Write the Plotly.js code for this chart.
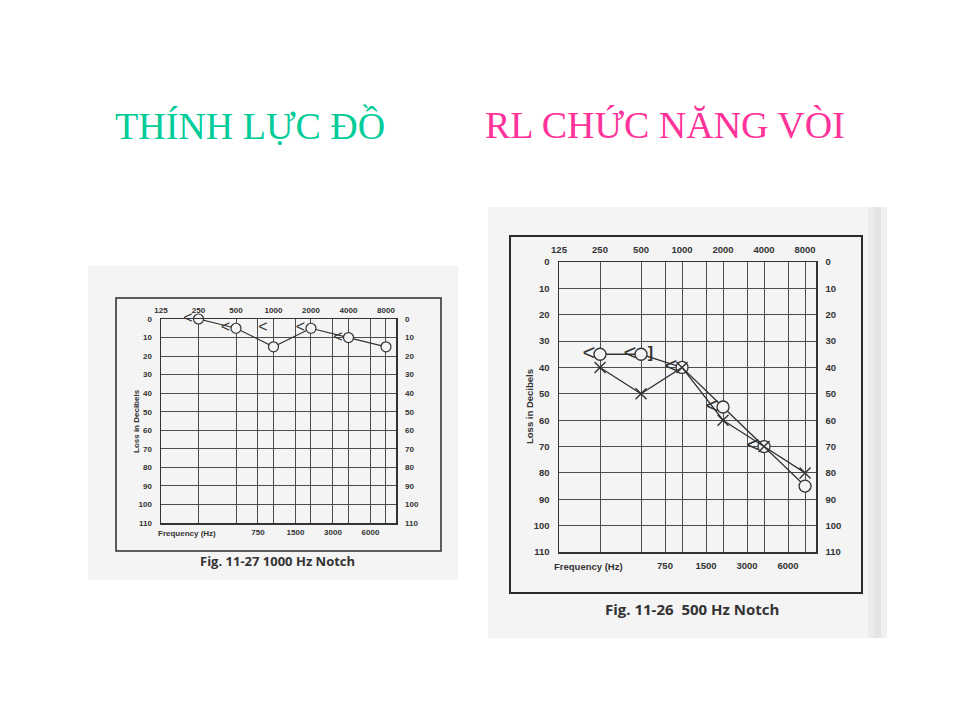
<!DOCTYPE html>
<html>
<head>
<meta charset="utf-8">
<script src="https://cdn.plot.ly/plotly-3.0.1.min.js"></script>
<style>html,body{margin:0;padding:0;background:#fff;}#chart{width:960px;height:720px;}</style>
</head>
<body>
<div id="chart"></div>
<script>
// ---- data ----
const freqs = [250, 500, 1000, 2000, 4000, 8000];
const topTicks = [125, 250, 500, 1000, 2000, 4000, 8000];
const bottomTicks = [750, 1500, 3000, 6000];
const dbTicks = [0, 10, 20, 30, 40, 50, 60, 70, 80, 90, 100, 110];

// Fig. 11-27 (1000 Hz notch)
const leftAirO = [0, 5, 15, 5, 10, 15];
const leftBoneFreqs = [250, 500, 1000, 2000, 4000];
const leftBone = [0, 5, 5, 5, 10];

// Fig. 11-26 (500 Hz notch)
const rightAirO = [35, 35, 40, 55, 70, 85];
const rightAirX = [40, 50, 40, 60, 70, 80];
const rightBoneFreqs = [250, 500, 1000, 2000, 4000];
const rightBone = [35, 35, 40, 55, 70];
const rightMaskFreqs = [500];
const rightMask = [35];

// ---- helpers ----
const W = 960, H = 720;
const px = v => v / W;
const py = v => 1 - v / H;
const xRange = [Math.log10(125), Math.log10(125) + 6.267 * Math.log10(2)];
const ink = '#333';
const gridC = '#4d4d4d';
const paperC = '#f4f4f4';
const tickFam = '"Liberation Sans Narrow", "Arial Narrow", "Liberation Sans", sans-serif';
const symFam = '"Liberation Sans Narrow", "Liberation Sans", sans-serif';

function xAxis(domain, side, vals, size, extra) {
  return Object.assign({
    type: 'log', range: xRange, domain: domain, side: side,
    tickmode: 'array', tickvals: vals, ticktext: vals.map(String),
    showgrid: true, gridcolor: gridC, gridwidth: 1, zeroline: false,
    ticks: '', ticklabelstandoff: 3,
    tickfont: {family: tickFam, size: size, color: ink, weight: 'bold'},
    showline: true, mirror: true, linecolor: ink, linewidth: 1.5, fixedrange: true
  }, extra);
}
function yAxis(domain, side, size, extra) {
  return Object.assign({
    range: [110, 0], domain: domain, side: side,
    tickmode: 'array', tickvals: dbTicks, ticktext: dbTicks.map(String),
    showgrid: true, gridcolor: gridC, gridwidth: 1, zeroline: false,
    ticks: '', ticklabelstandoff: 6,
    tickfont: {family: tickFam, size: size, color: ink, weight: 'bold'},
    showline: true, mirror: true, linecolor: ink, linewidth: 1.5, fixedrange: true
  }, extra);
}

const LX = [px(161), px(396)], LY = [py(523), py(319)];
const RX = [px(559), px(816)], RY = [py(552), py(262)];

const traces = [
  // left chart
  {x: freqs, y: leftAirO, xaxis: 'x', yaxis: 'y', type: 'scatter', mode: 'lines+markers', cliponaxis: false,
   line: {color: ink, width: 1.2},
   marker: {symbol: 'circle', size: 10, color: paperC, line: {width: 1.2, color: ink}}},
  {x: leftBoneFreqs, y: leftBone, xaxis: 'x2', yaxis: 'y2', type: 'scatter', mode: 'markers+text', cliponaxis: false,
   text: leftBone.map(() => '<'), textposition: 'middle left',
   textfont: {family: symFam, size: 16, color: ink},
   marker: {size: 8, color: 'rgba(0,0,0,0)'}},
  // right chart
  {x: freqs, y: rightAirO, xaxis: 'x3', yaxis: 'y3', type: 'scatter', mode: 'lines+markers', cliponaxis: false,
   line: {color: ink, width: 1.3},
   marker: {symbol: 'circle', size: 12, color: paperC, line: {width: 1.3, color: ink}}},
  {x: freqs, y: rightAirX, xaxis: 'x4', yaxis: 'y4', type: 'scatter', mode: 'lines+markers', cliponaxis: false,
   line: {color: ink, width: 1.3},
   marker: {symbol: 'x-thin-open', size: 11, color: ink, line: {width: 1.4, color: ink}}},
  {x: rightBoneFreqs, y: rightBone, xaxis: 'x4', yaxis: 'y4', type: 'scatter', mode: 'markers+text', cliponaxis: false,
   text: rightBone.map(() => '<'), textposition: 'middle left',
   textfont: {family: symFam, size: 22, color: ink},
   marker: {size: 6, color: 'rgba(0,0,0,0)'}},
  {x: rightMaskFreqs, y: rightMask, xaxis: 'x4', yaxis: 'y4', type: 'scatter', mode: 'markers+text', cliponaxis: false,
   text: rightMask.map(() => ']'), textposition: 'middle right',
   textfont: {family: symFam, size: 16, color: ink, weight: 'bold'},
   marker: {size: 9, color: 'rgba(0,0,0,0)'}}
];

const narrowBold = s => ({family: tickFam, size: s, color: ink, weight: 'bold'});

const layout = {
  width: W, height: H, margin: {l: 0, r: 0, t: 0, b: 0},
  paper_bgcolor: '#ffffff', plot_bgcolor: 'rgba(0,0,0,0)',
  showlegend: false, hovermode: false,
  xaxis: xAxis(LX, 'top', topTicks, 8, {anchor: 'y', ticklabelstandoff: 1}),
  xaxis2: xAxis(LX, 'bottom', bottomTicks, 8, {anchor: 'y', overlaying: 'x', ticklabelstandoff: 1}),
  yaxis: yAxis(LY, 'left', 8, {anchor: 'x'}),
  yaxis2: yAxis(LY, 'right', 8, {anchor: 'x', overlaying: 'y', showgrid: false}),
  xaxis3: xAxis(RX, 'top', topTicks, 9.5, {anchor: 'y3', ticklabelstandoff: 4}),
  xaxis4: xAxis(RX, 'bottom', bottomTicks, 9.5, {anchor: 'y3', overlaying: 'x3', ticklabelstandoff: 4}),
  yaxis3: yAxis(RY, 'left', 9.5, {anchor: 'x3'}),
  yaxis4: yAxis(RY, 'right', 9.5, {anchor: 'x3', overlaying: 'y3', showgrid: false}),
  shapes: [
    // scanned paper backgrounds
    {type: 'rect', xref: 'paper', yref: 'paper', layer: 'below', x0: px(88), x1: px(458), y0: py(580), y1: py(266),
     fillcolor: paperC, line: {width: 0}},
    {type: 'rect', xref: 'paper', yref: 'paper', layer: 'below', x0: px(488), x1: px(868), y0: py(638), y1: py(207),
     fillcolor: paperC, line: {width: 0}},
    {type: 'rect', xref: 'paper', yref: 'paper', layer: 'below', x0: px(868), x1: px(874), y0: py(638), y1: py(207),
     fillcolor: '#ececec', line: {width: 0}},
    {type: 'rect', xref: 'paper', yref: 'paper', layer: 'below', x0: px(874), x1: px(881), y0: py(638), y1: py(207),
     fillcolor: '#e4e4e4', line: {width: 0}},
    {type: 'rect', xref: 'paper', yref: 'paper', layer: 'below', x0: px(881), x1: px(887), y0: py(638), y1: py(207),
     fillcolor: '#f0f0f0', line: {width: 0}},
    // outer figure frames
    {type: 'rect', xref: 'paper', yref: 'paper', layer: 'below', x0: px(116), x1: px(441), y0: py(551), y1: py(298),
     fillcolor: 'rgba(0,0,0,0)', line: {color: '#2a2a2a', width: 1.5}},
    {type: 'rect', xref: 'paper', yref: 'paper', layer: 'below', x0: px(510), x1: px(862), y0: py(593), y1: py(236),
     fillcolor: 'rgba(0,0,0,0)', line: {color: '#2a2a2a', width: 2}}
  ],
  annotations: [
    {text: 'THÍNH LỰC ĐỒ', xref: 'paper', yref: 'paper', x: px(249.5), y: py(125), xanchor: 'center', yanchor: 'middle',
     showarrow: false, font: {family: '"Liberation Serif", "Times New Roman", serif', size: 38, color: '#00cc99'}},
    {text: 'RL CHỨC NĂNG VÒI', xref: 'paper', yref: 'paper', x: px(665), y: py(125), xanchor: 'center', yanchor: 'middle',
     showarrow: false, font: {family: '"Liberation Serif", "Times New Roman", serif', size: 38, color: '#ff3399'}},
    {text: 'Fig. 11-27 1000 Hz Notch', xref: 'paper', yref: 'paper', x: px(277.5), y: py(561), xanchor: 'center', yanchor: 'middle',
     showarrow: false, font: {family: '"Open Sans", sans-serif', size: 13, color: ink, weight: 'bold'}},
    {text: 'Fig. 11-26&nbsp; 500 Hz Notch', xref: 'paper', yref: 'paper', x: px(692), y: py(609), xanchor: 'center', yanchor: 'middle',
     showarrow: false, font: {family: '"Open Sans", sans-serif', size: 15, color: ink, weight: 'bold'}},
    {text: 'Frequency (Hz)', xref: 'paper', yref: 'paper', x: px(187), y: py(533), xanchor: 'center', yanchor: 'middle',
     showarrow: false, font: narrowBold(8)},
    {text: 'Frequency (Hz)', xref: 'paper', yref: 'paper', x: px(588), y: py(566), xanchor: 'center', yanchor: 'middle',
     showarrow: false, font: narrowBold(9.5)},
    {text: 'Loss in Decibels', xref: 'paper', yref: 'paper', x: px(136), y: py(421), xanchor: 'center', yanchor: 'middle',
     textangle: -90, showarrow: false, font: narrowBold(8)},
    {text: 'Loss in Decibels', xref: 'paper', yref: 'paper', x: px(529), y: py(407), xanchor: 'center', yanchor: 'middle',
     textangle: -90, showarrow: false, font: narrowBold(9.5)}
  ]
};

Plotly.newPlot('chart', traces, layout, {staticPlot: true, displayModeBar: false});
</script>
</body>
</html>
